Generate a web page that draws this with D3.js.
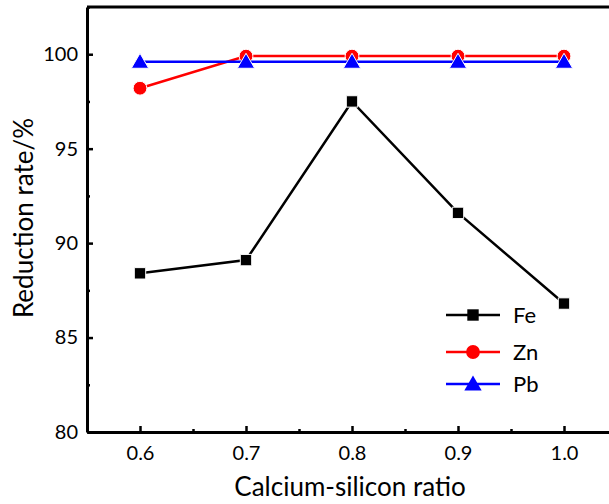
<!DOCTYPE html>
<html><head><meta charset="utf-8">
<script src="https://cdn.jsdelivr.net/npm/d3@7"></script>
<style>body{margin:0;background:#fff;overflow:hidden}svg{display:block}</style>
</head><body>
<svg id="c" width="609" height="504"></svg>
<script>
const ratios = [0.6, 0.7, 0.8, 0.9, 1.0];
const fe = [88.4, 89.1, 97.5, 91.6, 86.8];
const zn = [98.2, 99.9, 99.9, 99.9, 99.9];
const pb = [99.6, 99.6, 99.6, 99.6, 99.6];
const xTicks = [0.6, 0.7, 0.8, 0.9, 1.0];
const yTicks = [80, 85, 90, 95, 100];
const seriesNames = ["Fe", "Zn", "Pb"];
const seriesColors = ["#000000", "#ff0000", "#0000ff"];
const seriesShapes = [d3.symbolSquare, d3.symbolCircle, d3.symbolTriangle];

const svg = d3.select("#c");
const L = 87, R = 617, T = 7, B = 432;
const x = d3.scaleLinear().domain([0.55, 1.05]).range([L, R]);
const y = d3.scaleLinear().domain([80, 102.5]).range([B, T]);
const font = "Lato, Calibri, sans-serif";

// frame top
svg.append("line").attr("x1", L).attr("x2", R).attr("y1", T).attr("y2", T)
  .attr("stroke", "#000").attr("stroke-width", 3);

// x axis
const xAxis = svg.append("g").attr("transform", `translate(0,${B})`)
  .call(d3.axisBottom(x).tickValues(xTicks).tickFormat(d3.format(".1f")).tickSizeInner(-6).tickSizeOuter(0).tickPadding(14));
xAxis.select(".domain").attr("stroke-width", 3);
xAxis.selectAll(".tick line").attr("stroke-width", 2.5);
xAxis.selectAll("text").attr("font-family", font).attr("font-size", 20).attr("fill", "#000");
// x minor
svg.append("g").attr("transform", `translate(0,${B})`)
  .call(d3.axisBottom(x).tickValues([0.65, 0.75, 0.85, 0.95]).tickFormat("").tickSizeInner(-3).tickSizeOuter(0))
  .call(g => { g.select(".domain").remove(); g.selectAll("line").attr("stroke-width", 2.5); });

// y axis
const yAxis = svg.append("g").attr("transform", `translate(${L},0)`)
  .call(d3.axisLeft(y).tickValues(yTicks).tickSizeInner(-6).tickSizeOuter(0).tickPadding(9));
yAxis.select(".domain").attr("stroke-width", 3);
yAxis.selectAll(".tick line").attr("stroke-width", 2.5);
yAxis.selectAll("text").attr("font-family", font).attr("font-size", 20).attr("fill", "#000");
svg.append("g").attr("transform", `translate(${L},0)`)
  .call(d3.axisLeft(y).tickValues([82.5, 87.5, 92.5, 97.5, 102.5]).tickFormat("").tickSizeInner(-3).tickSizeOuter(0))
  .call(g => { g.select(".domain").remove(); g.selectAll("line").attr("stroke-width", 2.5); });

// axis titles
svg.append("text").attr("x", 350).attr("y", 496).attr("text-anchor", "middle")
  .attr("font-family", font).attr("font-size", 26).text("Calcium-silicon ratio");
svg.append("text").attr("transform", `translate(33,218) rotate(-90)`).attr("text-anchor", "middle")
  .attr("font-family", font).attr("font-size", 26).text("Reduction rate/%");

const data = [fe, zn, pb];
const sizes = [130, 150, 130];
const line = d3.line().x((d, i) => x(ratios[i])).y(d => y(d));
data.forEach((vals, k) => {
  svg.append("path").attr("d", line(vals)).attr("fill", "none")
    .attr("stroke", seriesColors[k]).attr("stroke-width", 2.5);
  svg.selectAll(null).data(vals).enter().append("path")
    .attr("transform", (d, i) => `translate(${x(ratios[i])},${y(d) + (k === 2 ? 1.5 : 0)})`)
    .attr("d", d3.symbol().type(seriesShapes[k]).size(sizes[k]))
    .attr("fill", seriesColors[k]).attr("stroke", "#fff").attr("stroke-width", 1);
});

// legend
const legY = [315, 352, 384];
seriesNames.forEach((n, k) => {
  const g = svg.append("g");
  g.append("line").attr("x1", 446).attr("x2", 500).attr("y1", legY[k]).attr("y2", legY[k])
    .attr("stroke", seriesColors[k]).attr("stroke-width", 2.5);
  g.append("path").attr("transform", `translate(473,${legY[k] + (k === 2 ? 1.5 : 0)})`)
    .attr("d", d3.symbol().type(seriesShapes[k]).size(sizes[k])).attr("fill", seriesColors[k]);
  g.append("text").attr("x", 513).attr("y", legY[k] + 8).attr("font-family", font)
    .attr("font-size", 22).text(n);
});
</script>
</body></html>
